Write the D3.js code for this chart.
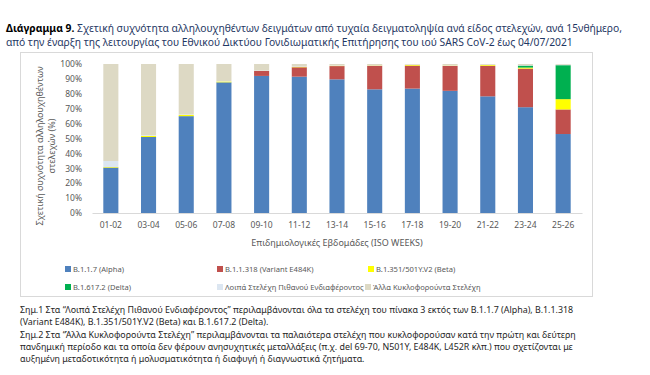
<!DOCTYPE html>
<html>
<head>
<meta charset="utf-8">
<script src="https://cdn.jsdelivr.net/npm/d3@7"></script>
<style>
  body { margin: 0; background: #fff; }
  svg { font-family: "Noto Sans", sans-serif; }
  .tick text { fill: #595959; }
  .note { fill: #262626; }
</style>
</head>
<body>
<svg id="chart" width="650" height="375"></svg>
<script>
// two-week periods (ISO weeks)
var periods = ["01-02", "03-04", "05-06", "07-08", "09-10", "11-12", "13-14",
  "15-16", "17-18", "19-20", "21-22", "23-24", "25-26"]

// percentages, bottom to top
var alpha = [30.5, 51, 65, 87.7, 92, 91.5, 89.7, 83, 83.5, 82, 78.3, 71, 53]
var e484k = [0, 0, 0, 0, 3.3, 6.3, 8.9, 15.8, 15.4, 16.7, 20.5, 25.9, 16.5]
var beta = [0.4, 0.8, 0.8, 0.6, 0, 0.2, 0.2, 0.2, 0.5, 0.2, 0.5, 0.7, 6.9]
var delta = [0, 0, 0, 0, 0, 0, 0, 0, 0, 0, 0, 1.3, 22.8]
var otherInterest = [4, 0.5, 0.3, 0.3, 0.2, 0.2, 0.2, 0.2, 0.2, 0.2, 0.2, 0.2, 0.3]
var otherCirc = [65.1, 47.7, 33.9, 11.4, 4.5, 1.8, 1.0, 0.8, 0.4, 0.9, 0.5, 0.9, 0.5]

var seriesNames = ["B.1.1.7 (Alpha)", "B.1.1.318 (Variant E484K)", "B.1.351/501Y.V2 (Beta)",
  "B.1.617.2 (Delta)", "Λοιπά Στελέχη Πιθανού Ενδιαφέροντος", "Άλλα Κυκλοφορούντα Στελέχη"]
var seriesColors = ["#4f81bd", "#c0504d", "#ffff00", "#00b050", "#dce6f1", "#ddd9c4"]
var yTicks = [0, 10, 20, 30, 40, 50, 60, 70, 80, 90, 100]

var noteLines = [
  "Σημ.1 Στα “Λοιπά Στελέχη Πιθανού Ενδιαφέροντος” περιλαμβάνονται όλα τα στελέχη του πίνακα 3 εκτός των B.1.1.7 (Alpha), B.1.1.318",
  "(Variant E484K), B.1.351/501Y.V2 (Beta) και B.1.617.2 (Delta).",
  "Σημ.2 Στα “Άλλα Κυκλοφορούντα Στελέχη” περιλαμβάνονται τα παλαιότερα στελέχη που κυκλοφορούσαν κατά την πρώτη και δεύτερη",
  "πανδημική περίοδο και τα οποία δεν φέρουν ανησυχητικές μεταλλάξεις (π.χ. del 69-70, N501Y, E484K, L452R κλπ.) που σχετίζονται με",
  "αυξημένη μεταδοτικότητα ή μολυσματικότητα ή διαφυγή ή διαγνωστικά ζητήματα."
]

var table = periods.map(function(p, i) {
  return { period: p, s0: alpha[i], s1: e484k[i], s2: beta[i], s3: delta[i], s4: otherInterest[i], s5: otherCirc[i] }
})
var keys = ["s0", "s1", "s2", "s3", "s4", "s5"]

var svg = d3.select("#chart")

// title
var title = svg.append("text").attr("x", 6).attr("y", 32).attr("font-size", 10.3).attr("fill", "#1f3864")
title.append("tspan").attr("font-weight", "bold").attr("fill", "#000").text("Διάγραμμα 9.")
title.append("tspan").text(" Σχετική συχνότητα αλληλουχηθέντων δειγμάτων από τυχαία δειγματοληψία ανά είδος στελεχών, ανά 15νθήμερο,")
svg.append("text").attr("x", 6).attr("y", 46).attr("font-size", 10.3).attr("fill", "#1f3864")
  .text("από την έναρξη της λειτουργίας του Εθνικού Δικτύου Γονιδιωματικής Επιτήρησης του ιού SARS CoV-2 έως 04/07/2021")

// chart frame
svg.append("rect").attr("x", 20.5).attr("y", 52.5).attr("width", 572).attr("height", 244)
  .attr("fill", "#fff").attr("stroke", "#d9d9d9")

var x = d3.scaleBand().domain(periods).range([92, 582]).paddingInner(0.6).paddingOuter(0.3)
var y = d3.scaleLinear().domain([0, 100]).range([213, 64])

var stacked = d3.stack().keys(keys)(table)

svg.append("g").selectAll("g")
  .data(stacked)
  .enter().append("g")
  .attr("fill", function(d, i) { return seriesColors[i] })
  .selectAll("rect")
  .data(function(d) { return d })
  .enter().append("rect")
  .attr("x", function(d) { return x(d.data.period) })
  .attr("width", x.bandwidth())
  .attr("y", function(d) { return y(d[1]) })
  .attr("height", function(d) { return Math.max(0, y(d[0]) - y(d[1])) })

// y axis
var yAxis = svg.append("g").attr("transform", "translate(84,0)")
  .call(d3.axisLeft(y).tickValues(yTicks).tickSize(0).tickPadding(2)
    .tickFormat(function(d) { return d + "%" }))
yAxis.select(".domain").remove()
yAxis.selectAll("text").attr("font-size", 8.5).attr("font-family", "Noto Sans")

// x axis
var xAxis = svg.append("g").attr("transform", "translate(0,213)")
  .call(d3.axisBottom(x).tickSize(0).tickPadding(9))
xAxis.select(".domain").attr("stroke", "#d9d9d9")
xAxis.selectAll("text").attr("font-size", 8.5).attr("font-family", "Noto Sans")

svg.append("text").attr("x", 337).attr("y", 246).attr("text-anchor", "middle")
  .attr("font-size", 9).attr("fill", "#595959")
  .text("Επιδημιολογικές Εβδομάδες (ISO WEEKS)")

var yTitle = svg.append("text").attr("transform", "translate(43,146) rotate(-90)")
  .attr("text-anchor", "middle").attr("font-size", 9).attr("fill", "#595959")
yTitle.append("tspan").attr("x", 0).attr("dy", 0).text("Σχετική συχνότητα αλληλουχηθέντων")
yTitle.append("tspan").attr("x", 0).attr("dy", 12).text("στελεχών (%)")

// legend
var legendPos = [[65, 269], [217, 269], [368, 269], [65, 287], [217, 287], [365, 287]]
var legend = svg.append("g").selectAll("g")
  .data(seriesNames)
  .enter().append("g")
  .attr("transform", function(d, i) { return "translate(" + legendPos[i][0] + "," + legendPos[i][1] + ")" })
legend.append("rect").attr("x", 0).attr("y", -3).attr("width", 6).attr("height", 6)
  .attr("fill", function(d, i) { return seriesColors[i] })
legend.append("text").attr("x", 8).attr("y", 3).attr("font-size", 7.6).attr("fill", "#595959")
  .text(function(d) { return d })

// notes
svg.append("g").selectAll("text")
  .data(noteLines)
  .enter().append("text")
  .attr("class", "note")
  .attr("x", 20).attr("y", function(d, i) { return 313 + i * 12.3 })
  .attr("font-size", 8.9)
  .text(function(d) { return d })
</script>
</body>
</html>
